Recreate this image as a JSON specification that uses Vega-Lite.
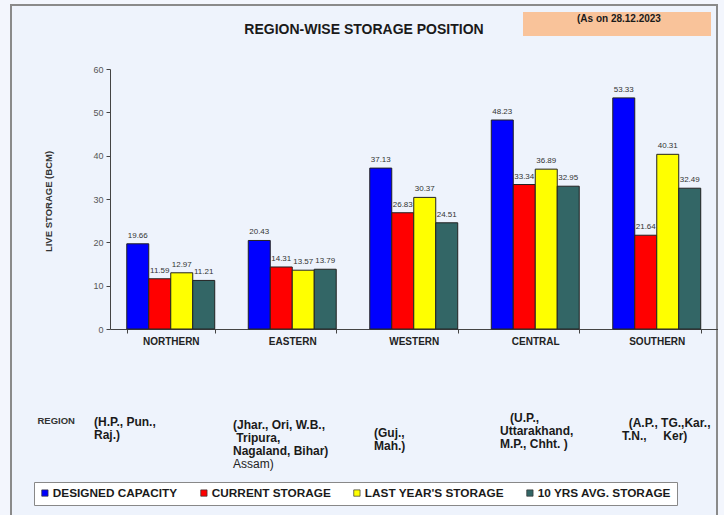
{
  "$schema": "https://vega.github.io/schema/vega-lite/v6.json",
  "autosize": "none",
  "width": 706,
  "height": 515,
  "padding": {"left": 11, "top": 5, "right": 7, "bottom": 0},
  "background": "#f3f6fd",
  "title": {
    "text": "REGION-WISE STORAGE POSITION",
    "frame": "group",
    "anchor": "middle",
    "offset": -39,
    "baseline": "middle",
    "font": "Liberation Sans",
    "fontSize": 14,
    "fontWeight": "bold",
    "color": "#1a1a1a"
  },
  "config": {
    "view": {"fill": "#eef3fc", "stroke": "#8a8a8a", "strokeWidth": 2},
    "font": "Liberation Sans",
    "axis": {"grid": false}
  },
  "datasets": {
    "storage": [
      {"region": "NORTHERN", "series": "DESIGNED CAPACITY", "value": 19.66},
      {"region": "NORTHERN", "series": "CURRENT STORAGE", "value": 11.59},
      {"region": "NORTHERN", "series": "LAST YEAR'S STORAGE", "value": 12.97},
      {"region": "NORTHERN", "series": "10 YRS AVG. STORAGE", "value": 11.21},
      {"region": "EASTERN", "series": "DESIGNED CAPACITY", "value": 20.43},
      {"region": "EASTERN", "series": "CURRENT STORAGE", "value": 14.31},
      {"region": "EASTERN", "series": "LAST YEAR'S STORAGE", "value": 13.57},
      {"region": "EASTERN", "series": "10 YRS AVG. STORAGE", "value": 13.79},
      {"region": "WESTERN", "series": "DESIGNED CAPACITY", "value": 37.13},
      {"region": "WESTERN", "series": "CURRENT STORAGE", "value": 26.83},
      {"region": "WESTERN", "series": "LAST YEAR'S STORAGE", "value": 30.37},
      {"region": "WESTERN", "series": "10 YRS AVG. STORAGE", "value": 24.51},
      {"region": "CENTRAL", "series": "DESIGNED CAPACITY", "value": 48.23},
      {"region": "CENTRAL", "series": "CURRENT STORAGE", "value": 33.34},
      {"region": "CENTRAL", "series": "LAST YEAR'S STORAGE", "value": 36.89},
      {"region": "CENTRAL", "series": "10 YRS AVG. STORAGE", "value": 32.95},
      {"region": "SOUTHERN", "series": "DESIGNED CAPACITY", "value": 53.33},
      {"region": "SOUTHERN", "series": "CURRENT STORAGE", "value": 21.64},
      {"region": "SOUTHERN", "series": "LAST YEAR'S STORAGE", "value": 40.31},
      {"region": "SOUTHERN", "series": "10 YRS AVG. STORAGE", "value": 32.49}
    ]
  },
  "data": {"name": "storage"},
  "layer": [
    {
      "mark": {"type": "bar", "stroke": "#222222", "strokeWidth": 1},
      "encoding": {
        "x": {
          "field": "region",
          "type": "nominal",
          "sort": ["NORTHERN", "EASTERN", "WESTERN", "CENTRAL", "SOUTHERN"],
          "scale": {"range": [99, 706.5], "paddingInner": 0.276, "paddingOuter": 0.138},
          "axis": {
            "orient": "bottom",
            "offset": -191,
            "title": null,
            "tickBand": "extent",
            "tickSize": 4,
            "tickColor": "#444444",
            "domainColor": "#444444",
            "labelFontSize": 10,
            "labelFontWeight": "bold",
            "labelColor": "#222222",
            "labelPadding": 3.5,
            "labelAngle": 0
          }
        },
        "xOffset": {
          "field": "series",
          "type": "nominal",
          "sort": ["DESIGNED CAPACITY", "CURRENT STORAGE", "LAST YEAR'S STORAGE", "10 YRS AVG. STORAGE"]
        },
        "y": {
          "field": "value",
          "type": "quantitative",
          "scale": {"domain": [0, 60], "range": [324, 64], "nice": false},
          "axis": {
            "orient": "left",
            "offset": -99,
            "title": "LIVE STORAGE (BCM)",
            "titleX": -62,
            "titleY": 196,
            "titleAngle": -90,
            "titleAlign": "center",
            "titleBaseline": "middle",
            "titleFontSize": 9.5,
            "titleFontWeight": "bold",
            "titleColor": "#333333",
            "values": [0, 10, 20, 30, 40, 50, 60],
            "tickSize": 4,
            "tickColor": "#444444",
            "domainColor": "#444444",
            "labelFontSize": 9,
            "labelColor": "#555555",
            "labelPadding": 3
          }
        },
        "color": {
          "field": "series",
          "type": "nominal",
          "scale": {
            "domain": ["DESIGNED CAPACITY", "CURRENT STORAGE", "LAST YEAR'S STORAGE", "10 YRS AVG. STORAGE"],
            "range": ["#0000ff", "#ff0000", "#ffff00", "#336666"]
          },
          "legend": {
            "orient": "none",
            "legendX": 23,
            "legendY": 477,
            "direction": "horizontal",
            "title": null,
            "symbolType": "square",
            "symbolSize": 40,
            "symbolStrokeColor": "#333333",
            "symbolStrokeWidth": 0.7,
            "labelFontSize": 11.8,
            "labelFontWeight": "bold",
            "labelColor": "#1a1a1a",
            "labelOffset": 2,
            "labelLimit": 0,
            "columnPadding": 20,
            "padding": 5,
            "fillColor": "#ffffff",
            "strokeColor": "#888888"
          }
        }
      }
    },
    {
      "mark": {"type": "text", "baseline": "bottom", "dy": -4, "fontSize": 8, "color": "#333333"},
      "encoding": {
        "x": {
          "field": "region",
          "type": "nominal",
          "sort": ["NORTHERN", "EASTERN", "WESTERN", "CENTRAL", "SOUTHERN"],
          "axis": {
            "orient": "bottom",
            "offset": -191,
            "domain": false,
            "ticks": false,
            "title": "REGION",
            "titleX": 26,
            "titleY": 91,
            "titleAlign": "left",
            "titleBaseline": "middle",
            "titleAngle": 0,
            "titleFontSize": 9.5,
            "titleFontWeight": "bold",
            "titleColor": "#333333",
            "labelExpr": "datum.value == 'NORTHERN' ? ['(H.P., Pun.,', 'Raj.)'] : datum.value == 'EASTERN' ? ['(Jhar., Ori, W.B.,', '\u200b\u00a0Tripura,', 'Nagaland, Bihar)'] : datum.value == 'WESTERN' ? ['(Guj.,', 'Mah.)'] : datum.value == 'CENTRAL' ? ['\u200b\u00a0\u00a0\u00a0(U.P.,', 'Uttarakhand,', 'M.P., Chht. )'] : ['\u200b\u00a0\u00a0(A.P., TG.,Kar.,', 'T.N.,\u00a0\u00a0\u00a0\u00a0\u00a0Ker)']",
            "labelAlign": "left",
            "labelBaseline": "top",
            "labelFontSize": 12,
            "labelFontWeight": "bold",
            "labelColor": "#1a1a1a",
            "labelLineHeight": 13,
            "labelOverlap": false,
            "labelBound": false,
            "labelLimit": 0,
            "labelAngle": 0,
            "labelOffset": {
              "condition": [
                {"test": "datum.value == 'NORTHERN'", "value": -76.75},
                {"test": "datum.value == 'EASTERN'", "value": -59.25},
                {"test": "datum.value == 'WESTERN'", "value": -39.75},
                {"test": "datum.value == 'CENTRAL'", "value": -35.25}
              ],
              "value": -34.75
            },
            "labelPadding": {
              "condition": [
                {"test": "datum.value == 'NORTHERN'", "value": 87.5},
                {"test": "datum.value == 'EASTERN'", "value": 90.8},
                {"test": "datum.value == 'WESTERN'", "value": 98.8},
                {"test": "datum.value == 'CENTRAL'", "value": 83.8}
              ],
              "value": 88.8
            }
          }
        },
        "xOffset": {
          "field": "series",
          "type": "nominal",
          "sort": ["DESIGNED CAPACITY", "CURRENT STORAGE", "LAST YEAR'S STORAGE", "10 YRS AVG. STORAGE"]
        },
        "y": {"field": "value", "type": "quantitative"},
        "text": {"field": "value", "type": "quantitative", "format": ".2f"}
      }
    },
    {
      "mark": {"type": "point", "filled": true, "size": 0, "color": "#f9c39a"},
      "encoding": {
        "x": {
          "field": "region",
          "type": "nominal",
          "sort": ["NORTHERN", "EASTERN", "WESTERN", "CENTRAL", "SOUTHERN"],
          "axis": {
            "orient": "bottom",
            "offset": -191,
            "domain": false,
            "ticks": false,
            "title": null,
            "labelExpr": "datum.value == 'EASTERN' ? 'Assam)' : ''",
            "labelAlign": "left",
            "labelBaseline": "top",
            "labelFontSize": 12,
            "labelFontWeight": "normal",
            "labelColor": "#222222",
            "labelOverlap": false,
            "labelBound": false,
            "labelLimit": 0,
            "labelAngle": 0,
            "labelOffset": -59.25,
            "labelPadding": 129.8
          }
        },
        "shape": {
          "datum": "(As on 28.12.2023",
          "type": "nominal",
          "scale": {"range": ["M-7.52,-0.96H7.52V0.96H-7.52Z"]},
          "legend": {
            "orient": "none",
            "legendX": 593.5,
            "legendY": 6.5,
            "title": null,
            "padding": 0,
            "symbolSize": 625,
            "symbolFillColor": "#f9c39a",
            "symbolStrokeColor": "#f9c39a",
            "symbolStrokeWidth": 0,
            "symbolOpacity": 1,
            "labelOffset": -52.5,
            "labelFontSize": 10,
            "labelFontWeight": "bold",
            "labelColor": "#1a1a1a",
            "labelBaseline": "bottom",
            "labelLimit": 0
          }
        }
      }
    }
  ],
  "resolve": {"axis": {"x": "independent"}}
}
